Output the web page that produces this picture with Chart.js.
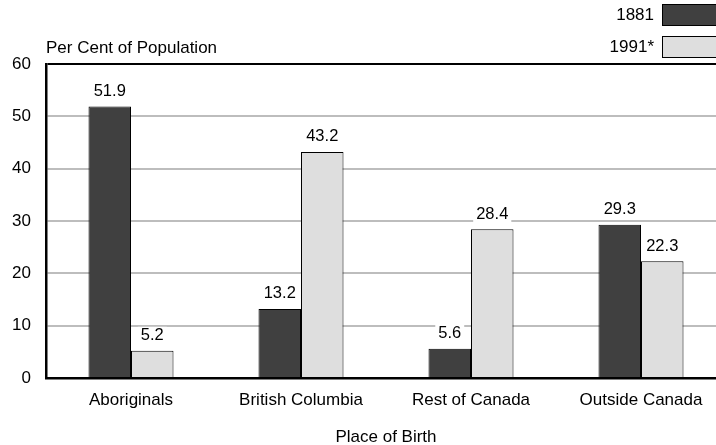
<!DOCTYPE html>
<html>
<head>
<meta charset="utf-8">
<script src="https://cdn.jsdelivr.net/npm/chart.js@4"></script>
<style>
  html, body { margin: 0; padding: 0; background: #fff; overflow: hidden; }
  #wrap { width: 727px; height: 445px; }
</style>
</head>
<body>
<div id="wrap"><canvas id="barChart" width="727" height="445"></canvas></div>
<script>
"use strict"

// data
const places = ["Aboriginals", "British Columbia", "Rest of Canada", "Outside Canada"];
const years = ["1881", "1991*"];
const share1881 = [51.9, 13.2, 5.6, 29.3];
const share1991 = [5.2, 43.2, 28.4, 22.3];
const yTicks = [0, 10, 20, 30, 40, 50, 60];

const FONT = "'Liberation Sans', Arial, sans-serif";
const darkFill = "#404040";
const lightFill = "#dedede";

// value labels on white boxes above each bar
const valueLabels = {
    id: "valueLabels",
    afterDatasetsDraw(chart) {
        const ctx = chart.ctx;
        ctx.save();
        ctx.font = "16.5px " + FONT;
        ctx.textAlign = "center";
        ctx.textBaseline = "middle";
        chart.data.datasets.forEach((ds, i) => {
            chart.getDatasetMeta(i).data.forEach((bar, j) => {
                const txt = ds.data[j].toFixed(1);
                const y = bar.y - 15;
                const w = ctx.measureText(txt).width + 6;
                ctx.fillStyle = "#fff";
                ctx.fillRect(bar.x - w / 2, y - 9, w, 18);
                ctx.fillStyle = "#000";
                ctx.fillText(txt, bar.x, y);
            });
        });
        ctx.restore();
    }
};

// legend boxes and axis titles
const extras = {
    id: "extras",
    afterDraw(chart) {
        const ctx = chart.ctx;
        const area = chart.chartArea;
        ctx.save();
        ctx.font = "17px " + FONT;
        ctx.fillStyle = "#000";
        ctx.textBaseline = "middle";

        ctx.textAlign = "left";
        ctx.fillText("Per Cent of Population", area.left, 48);

        ctx.textAlign = "center";
        ctx.fillText("Place of Birth", (area.left + area.right) / 2, 437);

        const fills = [darkFill, lightFill];
        const rows = [15, 47];
        ctx.textAlign = "right";
        years.forEach((yr, i) => {
            ctx.fillStyle = "#000";
            ctx.fillText(yr, 654, rows[i]);
            ctx.fillStyle = fills[i];
            ctx.fillRect(662.5, rows[i] - 10.5, 70, 21);
            ctx.strokeStyle = "#000";
            ctx.lineWidth = 1;
            ctx.strokeRect(662.5, rows[i] - 10.5, 70, 21);
        });
        ctx.restore();
    }
};

new Chart(document.getElementById("barChart"), {
    type: "bar",
    data: {
        labels: places,
        datasets: [
            {
                label: years[0],
                data: share1881,
                backgroundColor: darkFill,
                borderColor: "#000",
                borderWidth: 1
            },
            {
                label: years[1],
                data: share1991,
                backgroundColor: lightFill,
                borderColor: "#000",
                borderWidth: 1
            }
        ]
    },
    options: {
        responsive: false,
        animation: false,
        layout: { padding: { top: 64, right: 1, left: 0, bottom: 0 } },
        datasets: { bar: { categoryPercentage: 0.5, barPercentage: 1 } },
        plugins: {
            legend: { display: false },
            tooltip: { enabled: false }
        },
        scales: {
            x: {
                grid: { display: false, drawTicks: false },
                border: { display: true, color: "#000", width: 2.5 },
                ticks: { color: "#000", font: { family: FONT, size: 17 }, padding: 12 },
                afterFit: (s) => { s.height = 67; }
            },
            y: {
                min: 0,
                max: 60,
                afterBuildTicks: (s) => { s.ticks = yTicks.map(v => ({ value: v })); },
                grid: {
                    drawTicks: false,
                    lineWidth: 2,
                    color: (c) => (c.tick && c.tick.value === 60) ? "#000" : "#bdbdbd"
                },
                border: { display: true, color: "#000", width: 2.5 },
                ticks: { color: "#000", font: { family: FONT, size: 17 }, padding: 15 },
                afterFit: (s) => { s.width = 46; }
            }
        }
    },
    plugins: [valueLabels, extras]
});
</script>
</body>
</html>
